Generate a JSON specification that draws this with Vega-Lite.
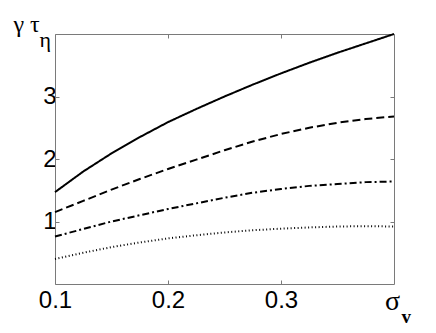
{
  "$schema": "https://vega.github.io/schema/vega-lite/v6.json",
  "autosize": "none",
  "width": 339,
  "height": 250,
  "padding": {"left": 55, "top": 34, "right": 42, "bottom": 49},
  "background": "white",
  "data": {"values": [
    {"s":0.1,"g":1.47,"c":"a"},{"s":0.125,"g":1.80,"c":"a"},{"s":0.15,"g":2.09,"c":"a"},{"s":0.175,"g":2.35,"c":"a"},{"s":0.2,"g":2.59,"c":"a"},{"s":0.225,"g":2.80,"c":"a"},{"s":0.25,"g":3.00,"c":"a"},{"s":0.275,"g":3.19,"c":"a"},{"s":0.3,"g":3.37,"c":"a"},{"s":0.325,"g":3.54,"c":"a"},{"s":0.35,"g":3.70,"c":"a"},{"s":0.375,"g":3.85,"c":"a"},{"s":0.4,"g":4.0,"c":"a"},
    {"s":0.1,"g":1.15,"c":"b"},{"s":0.125,"g":1.33,"c":"b"},{"s":0.15,"g":1.51,"c":"b"},{"s":0.175,"g":1.68,"c":"b"},{"s":0.2,"g":1.84,"c":"b"},{"s":0.225,"g":1.99,"c":"b"},{"s":0.25,"g":2.14,"c":"b"},{"s":0.275,"g":2.28,"c":"b"},{"s":0.3,"g":2.40,"c":"b"},{"s":0.325,"g":2.50,"c":"b"},{"s":0.35,"g":2.58,"c":"b"},{"s":0.375,"g":2.64,"c":"b"},{"s":0.4,"g":2.68,"c":"b"},
    {"s":0.1,"g":0.76,"c":"c"},{"s":0.125,"g":0.88,"c":"c"},{"s":0.15,"g":1.00,"c":"c"},{"s":0.175,"g":1.10,"c":"c"},{"s":0.2,"g":1.20,"c":"c"},{"s":0.225,"g":1.29,"c":"c"},{"s":0.25,"g":1.38,"c":"c"},{"s":0.275,"g":1.46,"c":"c"},{"s":0.3,"g":1.52,"c":"c"},{"s":0.325,"g":1.57,"c":"c"},{"s":0.35,"g":1.60,"c":"c"},{"s":0.375,"g":1.63,"c":"c"},{"s":0.4,"g":1.64,"c":"c"},
    {"s":0.1,"g":0.40,"c":"d"},{"s":0.125,"g":0.50,"c":"d"},{"s":0.15,"g":0.59,"c":"d"},{"s":0.175,"g":0.665,"c":"d"},{"s":0.2,"g":0.73,"c":"d"},{"s":0.225,"g":0.78,"c":"d"},{"s":0.25,"g":0.825,"c":"d"},{"s":0.275,"g":0.86,"c":"d"},{"s":0.3,"g":0.885,"c":"d"},{"s":0.325,"g":0.905,"c":"d"},{"s":0.35,"g":0.92,"c":"d"},{"s":0.375,"g":0.925,"c":"d"},{"s":0.4,"g":0.92,"c":"d"}
  ]},
  "config": {
    "view": {"stroke": null},
    "axis": {"grid": false, "domainColor": "#7a7a7a", "tickColor": "#7a7a7a", "tickSize": -4, "labelFont": "Liberation Sans", "labelFontSize": 24, "labelColor": "black", "titleColor": "black", "titleFontWeight": "normal", "titleFont": "Liberation Serif"}
  },
  "layer": [
    {
      "mark": {"type": "line", "color": "black", "strokeWidth": 2},
      "encoding": {
        "x": {"field": "s", "type": "quantitative", "scale": {"domain": [0.1, 0.4], "nice": false, "zero": false},
              "axis": {"orient": "bottom", "values": [0.1, 0.2, 0.3], "format": ".1f", "labelPadding": 8, "labelFlush": false,
                       "title": "σ", "titleFontSize": 28, "titleX": 337, "titleY": 25, "titleAlign": "center", "titleBaseline": "alphabetic"}},
        "y": {"field": "g", "type": "quantitative", "scale": {"domain": [0, 4], "nice": false, "zero": false},
              "axis": {"orient": "left", "values": [1, 2, 3], "labelPadding": 3,
                       "title": "γ τ", "titleFontSize": 24, "titleAngle": 0, "titleX": -42, "titleY": -3, "titleAlign": "left", "titleBaseline": "alphabetic"}},
        "strokeDash": {"field": "c", "type": "nominal", "legend": null,
                       "scale": {"domain": ["a", "b", "c", "d"], "range": [[1, 0], [8, 4], [7, 3, 2, 3], [1, 2.5]]}}
      }
    },
    {
      "mark": {"type": "line", "color": "black", "strokeOpacity": 0},
      "encoding": {
        "x": {"field": "s", "type": "quantitative", "scale": {"domain": [0.1, 0.4], "nice": false, "zero": false},
              "axis": {"orient": "top", "values": [0.1, 0.2, 0.3], "labels": false,
                       "title": "η", "titleFontSize": 22, "titleX": -16, "titleY": 12, "titleAlign": "left", "titleBaseline": "alphabetic"}},
        "y": {"field": "g", "type": "quantitative", "scale": {"domain": [0, 4], "nice": false, "zero": false},
              "axis": {"orient": "right", "values": [1, 2, 3], "labels": false,
                       "title": "v", "titleFontSize": 19, "titleFontWeight": "bold", "titleAngle": 0, "titleX": 7, "titleY": 288, "titleAlign": "left", "titleBaseline": "alphabetic"}},
        "detail": {"field": "c", "type": "nominal"}
      }
    }
  ],
  "resolve": {"axis": {"x": "independent", "y": "independent"}}
}
